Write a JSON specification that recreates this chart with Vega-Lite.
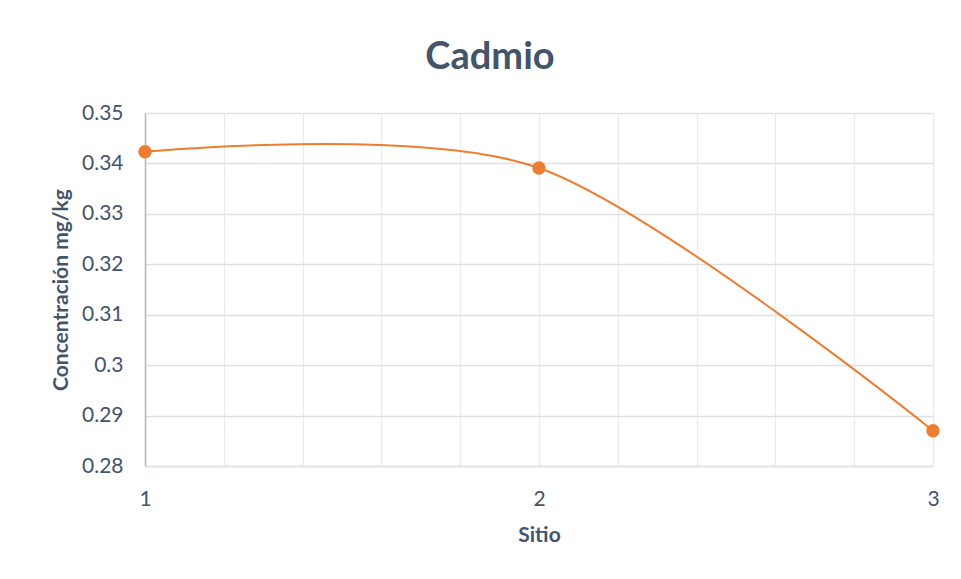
{
  "$schema": "https://vega.github.io/schema/vega-lite/v6.json",
  "width": 788,
  "height": 353,
  "autosize": "none",
  "padding": {"left": 145, "top": 113, "right": 28, "bottom": 113},
  "background": "white",
  "config": {
    "font": "Lato",
    "view": {"stroke": null}
  },
  "title": {
    "text": "Cadmio",
    "fontSize": 38,
    "fontWeight": "bold",
    "color": "#44546A",
    "font": "Lato",
    "anchor": "middle",
    "dx": -49,
    "offset": 25
  },
  "data": {
    "values": [
      {"Sitio": 1, "Concentracion": 0.3423},
      {"Sitio": 2, "Concentracion": 0.3391},
      {"Sitio": 3, "Concentracion": 0.287}
    ]
  },
  "encoding": {
    "x": {
      "field": "Sitio",
      "type": "quantitative",
      "scale": {"domain": [1, 3], "nice": false, "zero": false},
      "axis": {
        "title": "Sitio",
        "values": [1, 1.2, 1.4, 1.6, 1.8, 2, 2.2, 2.4, 2.6, 2.8, 3],
        "labelExpr": "datum.value % 1 === 0 ? format(datum.value, 'd') : ''",
        "labelFlush": false,
        "labelOverlap": false,
        "grid": true,
        "gridColor": "#E8EBEF",
        "gridWidth": 1.3,
        "domainColor": "#DDE1E6",
        "domainWidth": 1.3,
        "ticks": false,
        "labelFontSize": 21,
        "labelColor": "#44546A",
        "labelPadding": 22,
        "titleFontSize": 21,
        "titleFontWeight": "bold",
        "titleColor": "#44546A",
        "titlePadding": 15
      }
    },
    "y": {
      "field": "Concentracion",
      "type": "quantitative",
      "scale": {"domain": [0.28, 0.35], "nice": false, "zero": false},
      "axis": {
        "title": "Concentración mg/kg",
        "values": [0.28, 0.29, 0.3, 0.31, 0.32, 0.33, 0.34, 0.35],
        "format": ".2~f",
        "grid": true,
        "gridColor": "#DDE1E6",
        "gridWidth": 1.3,
        "domainColor": "#ADB9CA",
        "domainWidth": 1.5,
        "ticks": false,
        "labelFontSize": 21,
        "labelColor": "#44546A",
        "labelPadding": 22,
        "titleFontSize": 21,
        "titleFontWeight": "bold",
        "titleColor": "#44546A",
        "titlePadding": 10
      }
    }
  },
  "layer": [
    {
      "mark": {"type": "line", "color": "#ED7D31", "strokeWidth": 2, "interpolate": "cardinal", "tension": 0.1}
    },
    {
      "mark": {"type": "point", "filled": true, "color": "#ED7D31", "size": 180, "opacity": 1}
    }
  ]
}
